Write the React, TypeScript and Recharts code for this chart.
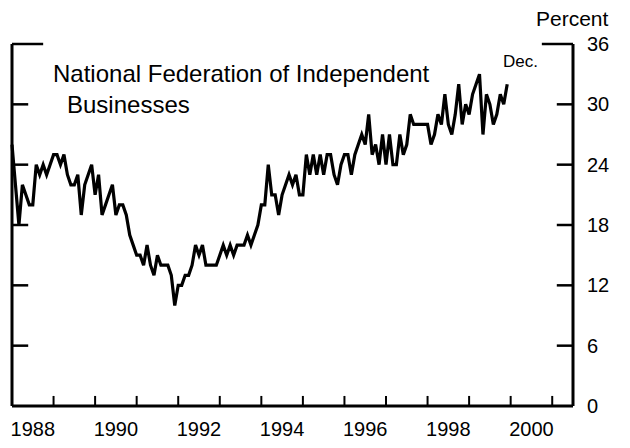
import { LineChart, Line, XAxis, YAxis, ReferenceLine } from 'recharts';

// monthly values, Jan..Dec (percent)
const v1988 = [26, 22, 18, 22, 21, 20, 20, 24, 23, 24, 23, 24];
const v1989 = [25, 25, 24, 25, 23, 22, 22, 23, 19, 22, 23, 24];
const v1990 = [21, 23, 19, 20, 21, 22, 19, 20, 20, 19, 17, 16];
const v1991 = [15, 15, 14, 16, 14, 13, 15, 14, 14, 14, 13, 10];
const v1992 = [12, 12, 13, 13, 14, 16, 15, 16, 14, 14, 14, 14];
const v1993 = [15, 16, 15, 16, 15, 16, 16, 16, 17, 16, 17, 18];
const v1994 = [20, 20, 24, 21, 21, 19, 21, 22, 23, 22, 23, 21];
const v1995 = [21, 25, 23, 25, 23, 25, 23, 25, 25, 23, 22, 24];
const v1996 = [25, 25, 23, 25, 26, 27, 26, 29, 25, 26, 24, 27];
const v1997 = [24, 27, 24, 24, 27, 25, 26, 29, 28, 28, 28, 28];
const v1998 = [28, 26, 27, 29, 28, 31, 28, 27, 29, 32, 28, 30];
const v1999 = [29, 31, 32, 33, 27, 31, 30, 28, 29, 31, 30, 32];

const years = [1988, 1989, 1990, 1991, 1992, 1993, 1994, 1995, 1996, 1997, 1998, 1999];
const yearValues = [v1988, v1989, v1990, v1991, v1992, v1993, v1994, v1995, v1996, v1997, v1998, v1999];

const yTicks = [0, 6, 12, 18, 24, 30, 36];
const yearTicks = [1989, 1990, 1991, 1992, 1993, 1994, 1995, 1996, 1997, 1998, 1999, 2000, 2001];
const labelTicks = [1988.5, 1990.5, 1992.5, 1994.5, 1996.5, 1998.5, 2000.5];

const data = years.flatMap((yr, i) =>
  yearValues[i].map((v, m) => ({ t: yr + m / 12, value: v }))
);

const X0 = 1988;
const X1 = 2001.5;
const FONT = '"Liberation Sans", Arial, Helvetica, sans-serif';
const INK = '#000';

// inward tick lengths, in axis units (about 16px / 31px across, 10px up)
const tickLenX = (v: number) => (v === 36 ? 0.75 : 0.39);
const tickLenY = 1;

const textStyle = (left: number, top: number, size: number): React.CSSProperties => ({
  position: 'absolute',
  left,
  top,
  fontSize: size,
  lineHeight: 1,
  fontFamily: FONT,
  color: INK,
  whiteSpace: 'nowrap',
});

export default function App() {
  const frameTicks = yTicks.filter((v) => v > 0);
  return (
    <div style={{ position: 'absolute', left: 0, top: 0, width: 630, height: 448, background: '#fff' }}>
      <LineChart width={630} height={448} data={data} margin={{ top: 44, right: 0, bottom: 0, left: 0 }}>
        <XAxis
          dataKey="t"
          type="number"
          domain={[X0, X1]}
          ticks={labelTicks}
          interval={0}
          height={42}
          tickSize={0}
          tickMargin={16}
          tickLine={false}
          axisLine={false}
          tickFormatter={(v: number) => String(Math.floor(v))}
          tick={{ fontSize: 20, fontFamily: FONT, fill: INK }}
        />
        <YAxis
          yAxisId="left"
          orientation="left"
          type="number"
          domain={[0, 36]}
          ticks={yTicks}
          interval={0}
          width={12}
          tick={false}
          tickLine={false}
          axisLine={{ stroke: INK, strokeWidth: 3 }}
        />
        <YAxis
          yAxisId="right"
          orientation="right"
          type="number"
          domain={[0, 36]}
          ticks={yTicks}
          interval={0}
          width={57}
          tickSize={0}
          tickMargin={14}
          tickLine={false}
          axisLine={{ stroke: INK, strokeWidth: 3 }}
          tick={{ fontSize: 20, fontFamily: FONT, fill: INK }}
        />
        <ReferenceLine yAxisId="right" y={0} stroke={INK} strokeWidth={3} />
        {frameTicks.map((v) => (
          <ReferenceLine
            key={`l${v}`}
            yAxisId="right"
            segment={[{ x: X0, y: v }, { x: X0 + tickLenX(v), y: v }]}
            stroke={INK}
            strokeWidth={2.5}
          />
        ))}
        {frameTicks.map((v) => (
          <ReferenceLine
            key={`r${v}`}
            yAxisId="right"
            segment={[{ x: X1 - tickLenX(v), y: v }, { x: X1, y: v }]}
            stroke={INK}
            strokeWidth={2.5}
          />
        ))}
        {yearTicks.map((yr) => (
          <ReferenceLine
            key={`x${yr}`}
            yAxisId="right"
            segment={[{ x: yr, y: 0 }, { x: yr, y: tickLenY }]}
            stroke={INK}
            strokeWidth={2}
          />
        ))}
        <Line
          yAxisId="right"
          dataKey="value"
          type="linear"
          stroke={INK}
          strokeWidth={3.2}
          dot={false}
          isAnimationActive={false}
        />
      </LineChart>
      <div style={textStyle(536, 8, 21)}>Percent</div>
      <div style={textStyle(53, 62, 24)}>National Federation of Independent</div>
      <div style={textStyle(67, 93, 24)}>Businesses</div>
      <div style={textStyle(503, 53, 17)}>Dec.</div>
    </div>
  );
}
